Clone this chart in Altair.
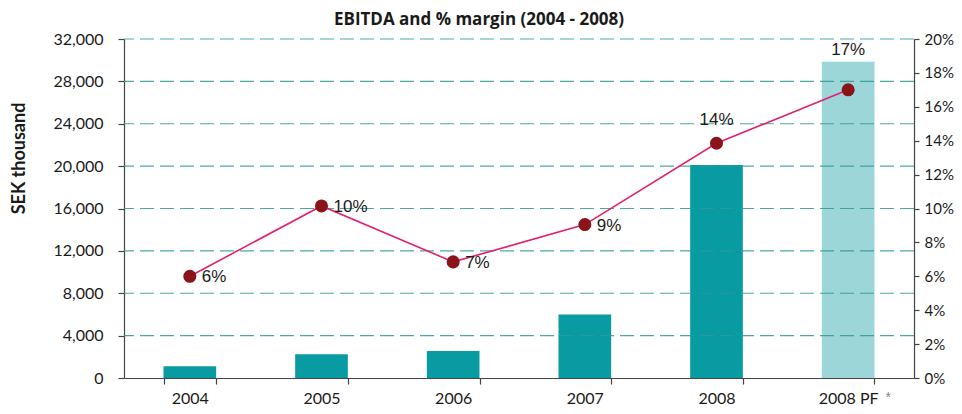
import altair as alt
import pandas as pd

categories = ["2004", "2005", "2006", "2007", "2008", "2008 PF"]
ebitda = [1100, 2250, 2550, 6000, 20100, 29850]
margin = [0.060, 0.1015, 0.0685, 0.0905, 0.1385, 0.170]
margin_labels = ["6%", "10%", "7%", "9%", "14%", "17%"]
label_pos = ["right", "right", "right", "right", "above", "bar"]
bar_kind = ["actual", "actual", "actual", "actual", "actual", "proforma"]
left_ticks = [0, 4000, 8000, 12000, 16000, 20000, 24000, 28000, 32000]
right_ticks = [0, 0.02, 0.04, 0.06, 0.08, 0.10, 0.12, 0.14, 0.16, 0.18, 0.20]

df = pd.DataFrame({
    "year": categories,
    "ebitda": ebitda,
    "margin": margin,
    "label": margin_labels,
    "pos": label_pos,
    "kind": bar_kind,
})
grid_df = pd.DataFrame({"v": left_ticks[1:]})
star_df = pd.DataFrame({"year": ["2008 PF"], "v": [0], "t": ["*"]})

AX_FONT = "Lato"
TXT = "#1a1a1a"

x_enc = alt.X(
    "year:N",
    sort=categories,
    scale=alt.Scale(paddingInner=0.6, paddingOuter=0.3),
    axis=alt.Axis(
        title=None, labelAngle=0, labelFont=AX_FONT, labelFontSize=16,
        labelColor=TXT, labelPadding=6, tickSize=6, tickBand="extent",
        domainColor="#444", tickColor="#444", domainWidth=1.2, tickWidth=1.2,
        grid=False, labelOverlap=False,
    ),
)

left_scale = alt.Scale(domain=[0, 32000], nice=False)
left_axis = alt.Axis(
    title="SEK thousand", values=left_ticks, format=",.0f",
    labelFont=AX_FONT, labelFontSize=16, labelColor=TXT, labelPadding=15,
    tickSize=6, domainColor="#444", tickColor="#444", domainWidth=1.2,
    tickWidth=1.2, grid=False, titleFont=AX_FONT, titleFontSize=18,
    titleFontWeight="bold", titleColor=TXT, titleAngle=-90,
    titleX=-105, titleY=119, titleAlign="center", titleBaseline="middle",
    labelOverlap=False,
)

bars = alt.Chart(df).mark_bar().encode(
    x=x_enc,
    y=alt.Y("ebitda:Q", scale=left_scale, axis=left_axis),
    color=alt.Color(
        "kind:N",
        scale=alt.Scale(domain=["actual", "proforma"], range=["#099ba2", "#9dd6d8"]),
        legend=None,
    ),
)

grid = alt.Chart(grid_df).mark_rule(
    color="#2f9898", strokeWidth=1.2, strokeDash=[14, 6], opacity=0.85
).encode(y=alt.Y("v:Q", scale=left_scale, axis=left_axis))

pf_label = alt.Chart(df).transform_filter(alt.datum.pos == "bar").mark_text(
    font="Liberation Sans", fontSize=17, color=TXT, dy=-12, baseline="middle"
).encode(
    x=alt.X("year:N", sort=categories),
    y=alt.Y("ebitda:Q", scale=left_scale, axis=left_axis),
    text="label:N",
)

star = alt.Chart(star_df).mark_text(
    font="Liberation Sans", fontSize=14, color="#888", dx=40, dy=20, baseline="middle"
).encode(
    x=alt.X("year:N", sort=categories),
    y=alt.Y("v:Q", scale=left_scale, axis=left_axis),
    text="t:N",
)

right_scale = alt.Scale(domain=[0, 0.2], nice=False)
right_axis = alt.Axis(
    orient="right", title=None, values=right_ticks, format=".0%",
    labelFont=AX_FONT, labelFontSize=15, labelColor=TXT, labelPadding=5,
    tickSize=5, domainColor="#444", tickColor="#444", domainWidth=1.2,
    tickWidth=1.2, grid=False, labelOverlap=False,
)

line = alt.Chart(df).mark_line(color="#e3206f", strokeWidth=1.6).encode(
    x=alt.X("year:N", sort=categories),
    y=alt.Y("margin:Q", scale=right_scale, axis=right_axis),
)
points = alt.Chart(df).mark_point(
    filled=True, color="#8b141b", size=170, opacity=1
).encode(
    x=alt.X("year:N", sort=categories),
    y=alt.Y("margin:Q", scale=right_scale, axis=right_axis),
)

right_labels = alt.Chart(df).transform_filter(alt.datum.pos == "right").mark_text(
    font="Liberation Sans", fontSize=17, color=TXT, align="left", dx=12,
    baseline="middle", dy=1,
).encode(
    x=alt.X("year:N", sort=categories),
    y=alt.Y("margin:Q", scale=right_scale, axis=right_axis),
    text="label:N",
)
above_labels = alt.Chart(df).transform_filter(alt.datum.pos == "above").mark_text(
    font="Liberation Sans", fontSize=17, color=TXT, dy=-23, baseline="middle",
).encode(
    x=alt.X("year:N", sort=categories),
    y=alt.Y("margin:Q", scale=right_scale, axis=right_axis),
    text="label:N",
)

left_layer = alt.layer(bars, grid, pf_label, star)
right_layer = alt.layer(line, points, right_labels, above_labels)

chart = alt.layer(left_layer, right_layer).resolve_scale(y="independent").properties(
    width=790,
    height=339,
    autosize="none",
    padding={"left": 116, "top": 31, "right": 40, "bottom": 28},
    title=alt.TitleParams(
        "EBITDA and % margin (2004 - 2008)", font="Open Sans", fontSize=17,
        fontWeight="bold", color=TXT, offset=2, anchor="middle", dx=-40,
    ),
).configure_view(stroke=None)

chart.save("out.html", embed_options={"renderer": "svg", "actions": False})
